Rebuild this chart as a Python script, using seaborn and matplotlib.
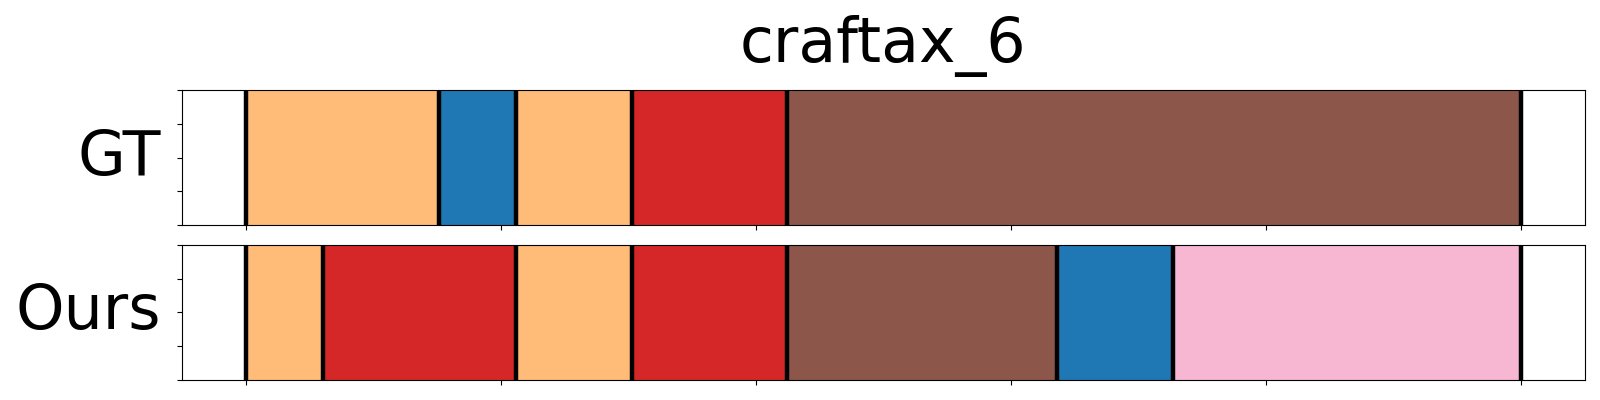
import numpy as np
import matplotlib
matplotlib.use("Agg")
import matplotlib.pyplot as plt
import seaborn as sns

title = "craftax_6"
n_frames = 33

# subtask id per segment (tab20 index) and segment length in frames
gt_ids = [3, 0, 3, 6, 10]
gt_lens = [5, 2, 3, 4, 19]
ours_ids = [3, 6, 3, 6, 10, 0, 13]
ours_lens = [2, 5, 3, 4, 7, 3, 9]

rows = [("GT", gt_ids, gt_lens), ("Ours", ours_ids, ours_lens)]
palette = sns.color_palette("tab20")


def draw_row(ax, name, ids, lens):
    lens = np.array(lens) / n_frames
    lefts = np.concatenate([[0], np.cumsum(lens)[:-1]])
    ax.barh(0.5, lens, left=lefts, height=1.0, color=[palette[i] for i in ids], linewidth=0)
    bounds = np.concatenate([[0], np.cumsum(lens)])
    ax.vlines(bounds, 0, 1, color="black", linewidth=3.2)
    ax.set_xlim(-0.05, 1.05)
    ax.set_ylim(0, 1)
    ax.set_xticks(np.linspace(0, 1, 6))
    ax.set_yticks(np.linspace(0, 1, 5))
    ax.set_xticklabels([])
    ax.set_yticklabels([])
    ax.set_ylabel(name, rotation=0, ha="right", va="center", fontsize=44.5, labelpad=8)


fig, axes = plt.subplots(2, 1, figsize=(16, 4), dpi=100)
for ax, (name, ids, lens) in zip(axes, rows):
    draw_row(ax, name, ids, lens)
axes[0].set_title(title, fontsize=44.5, pad=20)

plt.subplots_adjust(left=0.1136, right=0.9906, top=0.775, bottom=0.05, hspace=0.148)
plt.savefig("out.png")
